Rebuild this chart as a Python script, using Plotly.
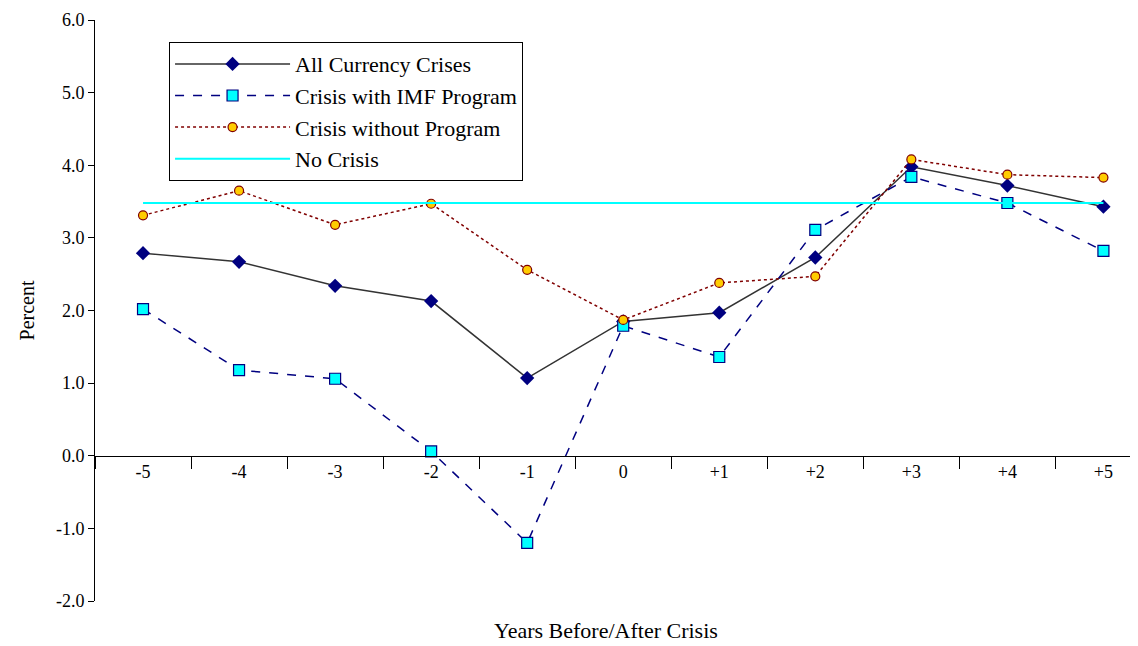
import plotly.graph_objects as go

years = ['-5', '-4', '-3', '-2', '-1', '0', '+1', '+2', '+3', '+4', '+5']
all_crises = [2.79, 2.67, 2.34, 2.13, 1.07, 1.85, 1.97, 2.73, 3.98, 3.72, 3.43]
imf_program = [2.02, 1.18, 1.06, 0.06, -1.20, 1.79, 1.36, 3.11, 3.84, 3.48, 2.82]
no_program = [3.31, 3.65, 3.18, 3.47, 2.56, 1.87, 2.38, 2.47, 4.08, 3.87, 3.83]
no_crisis = [3.48] * len(years)
y_ticks = [-2, -1, 0, 1, 2, 3, 4, 5, 6]
y_labels = ['-2.0', '-1.0', '0.0', '1.0', '2.0', '3.0', '4.0', '5.0', '6.0']

fig = go.Figure()
fig.add_trace(go.Scatter(x=years, y=all_crises, name='All Currency Crises', mode='lines+markers',
                         line=dict(color='#333333', width=1.5),
                         marker=dict(symbol='diamond', size=11, color='#000080')))
fig.add_trace(go.Scatter(x=years, y=imf_program, name='Crisis with IMF Program', mode='lines+markers',
                         line=dict(color='#000080', width=1.5, dash='dash'),
                         marker=dict(symbol='square', size=11, color='#00ffff',
                                     line=dict(color='#000080', width=1.2))))
fig.add_trace(go.Scatter(x=years, y=no_program, name='Crisis without Program', mode='lines+markers',
                         line=dict(color='#800000', width=1.5, dash='dot'),
                         marker=dict(symbol='circle', size=9, color='#ffcc00',
                                     line=dict(color='#800000', width=1.2))))
fig.add_trace(go.Scatter(x=years, y=no_crisis, name='No Crisis', mode='lines',
                         line=dict(color='#00ffff', width=2)))

# page body has an 8px margin, so the figure is shrunk by that much
fig.update_layout(
    width=1130, height=638,
    margin=dict(l=87, r=0, t=12, b=45, autoexpand=False),
    plot_bgcolor='white', paper_bgcolor='white',
    font=dict(family='Liberation Serif', size=18, color='black'),
    legend=dict(x=0.071, y=0.962, xanchor='left', yanchor='top',
                bordercolor='black', borderwidth=1, font=dict(size=22),
                bgcolor='white', tracegroupgap=0, itemwidth=115, entrywidth=310),
    xaxis=dict(type='category', range=[-0.5, 10.36], anchor='free', position=0.25,
               showline=True, linecolor='black', showgrid=False,
               ticks='outside', tickson='boundaries', ticklen=12, tickcolor='black',
               tickfont=dict(size=18), title=None),
    yaxis=dict(range=[-2, 6], tickvals=y_ticks, ticktext=y_labels, showline=True, linecolor='black',
               showgrid=False, zeroline=False, ticks='outside', ticklen=6, tickcolor='black',
               tickfont=dict(size=18), title=dict(text='Percent', font=dict(size=20))),
    annotations=[dict(text='Years Before/After Crisis', xref='paper', yref='paper',
                      x=0.49, y=-0.025, yanchor='top', showarrow=False, font=dict(size=22))],
)

fig.write_html("out.html")
